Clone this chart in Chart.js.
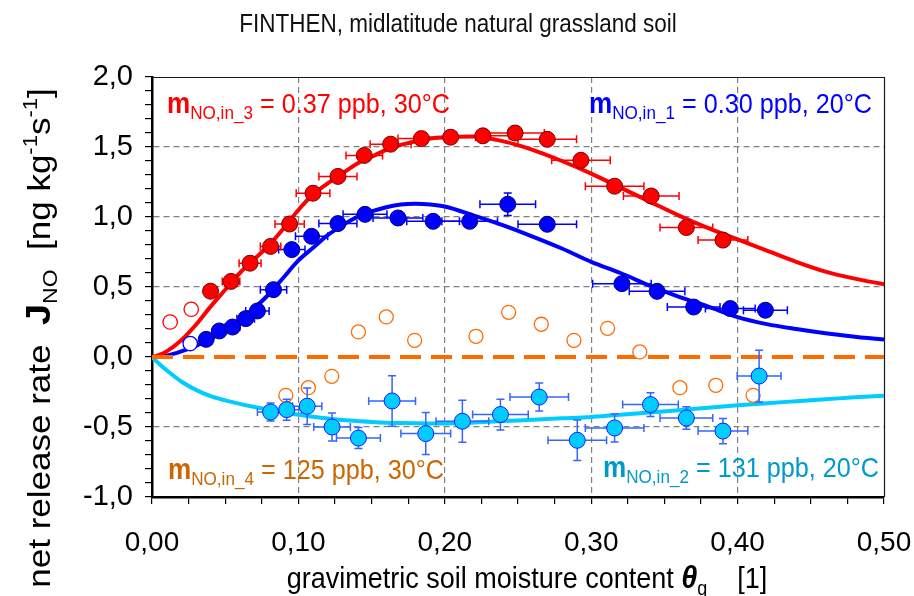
<!DOCTYPE html>
<html>
<head>
<meta charset="utf-8">
<title>FINTHEN NO release</title>
<script src="https://cdn.jsdelivr.net/npm/chart.js@4.4.1/dist/chart.umd.min.js"></script>
<style>
  html, body { margin: 0; padding: 0; background: #ffffff; }
  #wrap { width: 914px; height: 596px; position: relative; }
</style>
</head>
<body>
<div id="wrap"><canvas id="c" width="914" height="596"></canvas></div>
<script>
// ---- measured series (gravimetric soil moisture vs. net NO release rate) ----
// m_NO,in_3 = 0.37 ppb, 30 °C
const thetaIn3    = [0.040, 0.054, 0.067, 0.081, 0.094, 0.110, 0.127, 0.145, 0.163, 0.184, 0.204, 0.226, 0.248, 0.270, 0.293, 0.316, 0.341, 0.365, 0.390];
const jIn3        = [0.47, 0.54, 0.67, 0.79, 0.95, 1.17, 1.29, 1.44, 1.52, 1.56, 1.57, 1.58, 1.60, 1.555, 1.405, 1.22, 1.15, 0.925, 0.835];
const thetaErrIn3 = [0.003, 0.006, 0.0075, 0.007, 0.010, 0.0115, 0.013, 0.0125, 0.014, 0.016, 0.017, 0.018, 0.020, 0.020, 0.020, 0.020, 0.019, 0.018, 0.017];
const jErrIn3     = [0, 0, 0, 0, 0, 0, 0, 0, 0, 0, 0, 0, 0, 0, 0, 0, 0, 0, 0];
// points left out of the in_3 fit
const thetaIn3Excl = [0.0124, 0.0268];
const jIn3Excl     = [0.25, 0.341];

// m_NO,in_1 = 0.30 ppb, 20 °C
const thetaIn1    = [0.037, 0.046, 0.055, 0.064, 0.072, 0.083, 0.0955, 0.109, 0.127, 0.1455, 0.168, 0.192, 0.217, 0.243, 0.270, 0.321, 0.345, 0.370, 0.395, 0.419];
const jIn1        = [0.126, 0.186, 0.214, 0.274, 0.329, 0.481, 0.767, 0.862, 0.953, 1.019, 0.993, 0.969, 0.969, 1.091, 0.948, 0.524, 0.469, 0.357, 0.346, 0.334];
const thetaErrIn1 = [0.003, 0.004, 0.005, 0.006, 0.008, 0.009, 0.009, 0.011, 0.013, 0.015, 0.017, 0.018, 0.019, 0.019, 0.020, 0.020, 0.019, 0.018, 0.017, 0.015];
const jErrIn1     = [0, 0, 0, 0, 0, 0, 0, 0, 0, 0, 0, 0, 0, 0.08, 0, 0, 0, 0, 0, 0];
// point left out of the in_1 fit
const thetaIn1Excl = [0.0261];
const jIn1Excl     = [0.096];

// m_NO,in_2 = 131 ppb, 20 °C
const thetaIn2    = [0.081, 0.092, 0.106, 0.123, 0.141, 0.164, 0.187, 0.212, 0.238, 0.2645, 0.2905, 0.316, 0.3405, 0.365, 0.390, 0.4147];
const jIn2        = [-0.393, -0.376, -0.352, -0.50, -0.579, -0.314, -0.547, -0.459, -0.411, -0.286, -0.595, -0.507, -0.34, -0.436, -0.529, -0.136];
const thetaErrIn2 = [0.009, 0.010, 0.010, 0.0125, 0.015, 0.016, 0.017, 0.018, 0.019, 0.020, 0.020, 0.020, 0.019, 0.018, 0.017, 0.015];
const jErrIn2     = [0.065, 0.075, 0.13, 0.10, 0.075, 0.18, 0.15, 0.15, 0.11, 0.10, 0.145, 0.10, 0.085, 0.08, 0.09, 0.185];

// m_NO,in_4 = 125 ppb, 30 °C
const thetaIn4 = [0.0914, 0.1068, 0.1228, 0.141, 0.160, 0.1794, 0.2213, 0.2436, 0.2659, 0.2882, 0.3112, 0.3332, 0.3606, 0.3851, 0.4106];
const jIn4     = [-0.274, -0.219, -0.138, 0.179, 0.286, 0.119, 0.148, 0.319, 0.234, 0.119, 0.205, 0.036, -0.219, -0.202, -0.274];

// ---- fitted curves ----
const fitTheta = [0, 0.005, 0.01, 0.02, 0.03, 0.04, 0.05, 0.06, 0.07, 0.08, 0.09, 0.10, 0.11, 0.12, 0.13, 0.14, 0.15, 0.16, 0.17, 0.18, 0.19, 0.20,
                  0.22, 0.24, 0.26, 0.28, 0.30, 0.32, 0.34, 0.36, 0.38, 0.40, 0.42, 0.44, 0.46, 0.48, 0.50, 0.506];
const fitIn3 = [0, 0.015, 0.04, 0.12, 0.23, 0.36, 0.48, 0.60, 0.70, 0.80, 0.92, 1.05, 1.16, 1.24, 1.31, 1.38, 1.43, 1.48, 1.515, 1.54, 1.56, 1.57,
                1.575, 1.54, 1.48, 1.40, 1.31, 1.21, 1.11, 1.01, 0.92, 0.84, 0.76, 0.68, 0.61, 0.56, 0.52, 0.51];
const fitIn1 = [0, 0.003, 0.01, 0.04, 0.08, 0.13, 0.19, 0.26, 0.35, 0.45, 0.57, 0.69, 0.78, 0.87, 0.94, 1.00, 1.04, 1.07, 1.09, 1.095, 1.09, 1.075,
                1.01, 0.94, 0.86, 0.775, 0.68, 0.60, 0.51, 0.43, 0.36, 0.285, 0.235, 0.20, 0.17, 0.145, 0.125, 0.12];
const fitIn2 = [0, -0.05, -0.095, -0.175, -0.235, -0.28, -0.31, -0.335, -0.357, -0.377, -0.395, -0.412, -0.427, -0.44, -0.45, -0.458, -0.464, -0.469, -0.472, -0.474, -0.475, -0.475,
                -0.468, -0.458, -0.448, -0.438, -0.428, -0.413, -0.396, -0.38, -0.362, -0.345, -0.33, -0.316, -0.302, -0.288, -0.276, -0.273];
const fitIn4Theta = [0, 0.5];
const fitIn4      = [0, 0];

// ---- axis tick layout ----
const xTickStep = 0.025, xLabelStep = 0.1;
const yTickStep = 0.1,   yLabelStep = 0.5;

const FONT = "'Liberation Sans', Arial, Helvetica, sans-serif";

const pts = (xs, ys) => xs.map((x, i) => ({ x: x, y: ys[i] }));
const isMultiple = (v, step) => Math.abs(v / step - Math.round(v / step)) < 1e-6;

function curve(xs, ys, color, extra) {
  return Object.assign({
    data: pts(xs, ys), showLine: true, pointRadius: 0, pointHoverRadius: 0,
    borderColor: color, borderWidth: 4, backgroundColor: color,
    cubicInterpolationMode: 'monotone', fill: false,
    clip: { left: 0, top: 0, right: 12, bottom: 0 }, order: 20
  }, extra || {});
}
function markers(xs, ys, fill, edge, extra) {
  return Object.assign({
    data: pts(xs, ys), showLine: false, pointRadius: 8, pointHoverRadius: 8,
    pointBackgroundColor: fill, pointBorderColor: edge, pointBorderWidth: 1,
    backgroundColor: fill, borderColor: edge, order: 1
  }, extra || {});
}

const datasets = [
  curve(fitTheta, fitIn3, '#ff0000'),
  curve(fitTheta, fitIn1, '#0000ff'),
  curve(fitTheta, fitIn2, '#00ccff'),
  curve(fitIn4Theta, fitIn4, '#ff6a00', { borderDash: [21, 10], borderWidth: 4, cubicInterpolationMode: 'default', tension: 0, order: 15 }),
  markers(thetaIn4, jIn4, '#ffffff', '#ff6a00', { pointRadius: 7, pointBorderWidth: 1.3, order: 5 }),
  markers(thetaIn3Excl, jIn3Excl, '#ffffff', '#ff0000', { pointRadius: 7.2, pointBorderWidth: 1.3, order: 4 }),
  markers(thetaIn1Excl, jIn1Excl, '#ffffff', '#0000ff', { pointRadius: 7.2, pointBorderWidth: 1.3, order: 4 }),
  markers(thetaIn2, jIn2, '#00ccff', '#1a1aff', { errX: thetaErrIn2, errY: jErrIn2, errColor: '#3366ff', order: 3 }),
  markers(thetaIn1, jIn1, '#0000ff', '#00007a', { errX: thetaErrIn1, errY: jErrIn1, errColor: '#0000ff', order: 2 }),
  markers(thetaIn3, jIn3, '#ff0000', '#7a0000', { errX: thetaErrIn3, errY: jErrIn3, errColor: '#ff0000', order: 1 })
];

// horizontal / vertical error bars, drawn just under their markers
const errorBars = {
  id: 'errorBars',
  beforeDatasetDraw(chart, args) {
    const ds = chart.data.datasets[args.index];
    if (!ds.errX) return;
    const ctx = chart.ctx, xs = chart.scales.x, ys = chart.scales.y;
    const cap = 4;
    ctx.save();
    ctx.strokeStyle = ds.errColor;
    ctx.lineWidth = 1.5;
    ds.data.forEach((p, i) => {
      const px = xs.getPixelForValue(p.x), py = ys.getPixelForValue(p.y);
      const ex = ds.errX[i] || 0, ey = (ds.errY && ds.errY[i]) || 0;
      ctx.beginPath();
      if (ex > 0) {
        const x1 = xs.getPixelForValue(p.x - ex), x2 = xs.getPixelForValue(p.x + ex);
        ctx.moveTo(x1, py); ctx.lineTo(x2, py);
        ctx.moveTo(x1, py - cap); ctx.lineTo(x1, py + cap);
        ctx.moveTo(x2, py - cap); ctx.lineTo(x2, py + cap);
      }
      if (ey > 0) {
        const y1 = ys.getPixelForValue(p.y - ey), y2 = ys.getPixelForValue(p.y + ey);
        ctx.moveTo(px, y1); ctx.lineTo(px, y2);
        ctx.moveTo(px - cap, y1); ctx.lineTo(px + cap, y1);
        ctx.moveTo(px - cap, y2); ctx.lineTo(px + cap, y2);
      }
      ctx.stroke();
    });
    ctx.restore();
  }
};

// text runs with mixed fonts (sub/superscripts)
function richText(ctx, parts, x, y, o) {
  ctx.save();
  ctx.translate(x, y);
  if (o.rotate) ctx.rotate(o.rotate);
  ctx.scale(o.sx || 1, o.sy || 1);
  ctx.textBaseline = 'alphabetic';
  ctx.textAlign = 'left';
  let total = 0;
  parts.forEach(p => { ctx.font = p.font; total += ctx.measureText(p.t).width; });
  let cx = o.align === 'center' ? -total / 2 : 0;
  parts.forEach(p => {
    ctx.font = p.font;
    ctx.fillStyle = p.color || o.color || '#000';
    ctx.fillText(p.t, cx, p.dy || 0);
    cx += ctx.measureText(p.t).width;
  });
  ctx.restore();
}

function seriesLabel(ctx, x, y, sub, rest, color) {
  richText(ctx, [
    { t: 'm', font: 'bold 29px ' + FONT },
    { t: sub, font: '19px ' + FONT, dy: 6 },
    { t: rest, font: '28px ' + FONT }
  ], x, y, { sx: 0.9, color: color });
}

const decorations = {
  id: 'decorations',
  beforeDatasetsDraw(chart) {
    const { ctx, chartArea: a } = chart;
    ctx.save();
    ctx.strokeStyle = '#1a1a1a';
    ctx.lineWidth = 1.2;
    ctx.beginPath();
    ctx.moveTo(a.left, a.top + 0.5);
    ctx.lineTo(a.right + 0.5, a.top + 0.5);
    ctx.lineTo(a.right + 0.5, a.bottom);
    ctx.stroke();
    ctx.restore();
  },
  afterDraw(chart) {
    const ctx = chart.ctx;
    // chart title
    richText(ctx, [{ t: 'FINTHEN, midlatitude natural grassland soil', font: '25px ' + FONT }],
      458, 32, { align: 'center', sx: 0.9, color: '#111' });
    // x axis title
    richText(ctx, [
      { t: 'gravimetric soil moisture content ', font: '30px ' + FONT },
      { t: 'θ', font: 'bold italic 32px ' + FONT },
      { t: 'g', font: '20px ' + FONT, dy: 7 },
      { t: '    [1]', font: '30px ' + FONT }
    ], 527, 588, { align: 'center', sx: 0.9, color: '#000' });
    // y axis title
    richText(ctx, [
      { t: 'net release rate  ', font: '35px ' + FONT },
      { t: 'J', font: 'bold 38px ' + FONT },
      { t: 'NO', font: '23px ' + FONT, dy: 8 },
      { t: '  [ng kg', font: '35px ' + FONT },
      { t: '-1', font: '22px ' + FONT, dy: -14 },
      { t: 's', font: '35px ' + FONT },
      { t: '-1', font: '22px ' + FONT, dy: -14 },
      { t: ']', font: '35px ' + FONT }
    ], 50, 338, { align: 'center', rotate: -Math.PI / 2, sy: 0.9, color: '#000' });
    // series annotations
    seriesLabel(ctx, 167, 113, 'NO,in_3', ' = 0.37 ppb, 30°C', '#ff0000');
    seriesLabel(ctx, 589, 113, 'NO,in_1', ' = 0.30 ppb, 20°C', '#0000ff');
    seriesLabel(ctx, 168, 479, 'NO,in_4', ' = 125 ppb, 30°C', '#cc6600');
    seriesLabel(ctx, 603, 477, 'NO,in_2', ' = 131 ppb, 20°C', '#0099cc');
  }
};

new Chart(document.getElementById('c'), {
  type: 'scatter',
  data: { datasets: datasets },
  options: {
    responsive: false,
    animation: false,
    devicePixelRatio: 1,
    events: [],
    layout: { padding: { top: 77, right: 30, left: 0, bottom: 0 } },
    plugins: { legend: { display: false }, tooltip: { enabled: false }, title: { display: false } },
    scales: {
      x: {
        type: 'linear', min: 0, max: 0.5,
        afterFit(s) { s.height = 99; s.paddingLeft = 0; s.paddingRight = 0; },
        ticks: {
          stepSize: xTickStep, autoSkip: false, maxRotation: 0, minRotation: 0, padding: 22,
          color: '#000', font: { family: FONT, size: 28 },
          callback: v => isMultiple(v, xLabelStep) ? (Math.round(v / xLabelStep) * xLabelStep).toFixed(2).replace('.', ',') : ''
        },
        grid: {
          color: c => (c.tick && isMultiple(c.tick.value, xLabelStep) && c.tick.value > 1e-6 && c.tick.value < 0.5 - 1e-6) ? '#808080' : 'rgba(0,0,0,0)',
          lineWidth: 1.2, tickColor: '#000', tickLength: 7, tickWidth: 1.2
        },
        border: { display: true, color: '#000', width: 2.5, dash: [6, 4] }
      },
      y: {
        type: 'linear', min: -1, max: 2,
        afterFit(s) { s.width = 152; s.paddingTop = 0; s.paddingBottom = 0; },
        ticks: {
          stepSize: yTickStep, autoSkip: false, padding: 12,
          color: '#000', font: { family: FONT, size: 29 },
          callback: v => isMultiple(v, yLabelStep) ? (Math.round(v / yLabelStep) * yLabelStep).toFixed(1).replace('.', ',') : ''
        },
        grid: {
          color: c => {
            if (!c.tick) return 'rgba(0,0,0,0)';
            const v = c.tick.value;
            return (isMultiple(v, yLabelStep) && Math.abs(v) > 1e-6 && v > -1 + 1e-6 && v < 2 - 1e-6) ? '#808080' : 'rgba(0,0,0,0)';
          },
          lineWidth: 1.2, tickColor: '#000', tickLength: 7, tickWidth: 1.2
        },
        border: { display: true, color: '#000', width: 2.5, dash: [6, 4] }
      }
    }
  },
  plugins: [errorBars, decorations]
});
</script>
</body>
</html>
